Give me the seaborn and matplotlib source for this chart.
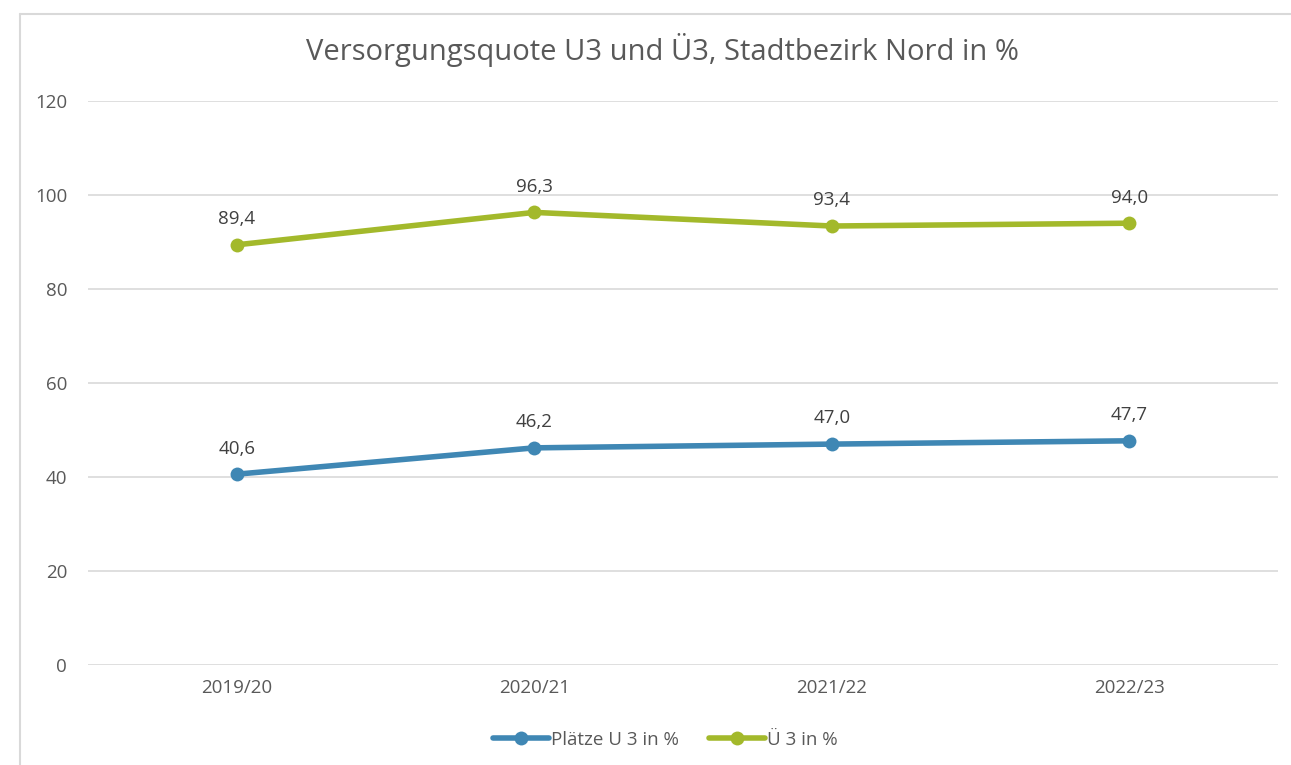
import matplotlib
matplotlib.use("Agg")
import matplotlib.pyplot as plt
from matplotlib.lines import Line2D
import seaborn as sns
import pandas as pd

years = ["2019/20", "2020/21", "2021/22", "2022/23"]
u3_values = [40.6, 46.2, 47.0, 47.7]
ue3_values = [89.4, 96.3, 93.4, 94.0]
series_names = ["Plätze U 3 in %", "Ü 3 in %"]
title = "Versorgungsquote U3 und Ü3, Stadtbezirk Nord in %"

colors = {"Plätze U 3 in %": "#3F87B4", "Ü 3 in %": "#A3B92B"}

df = pd.DataFrame({
    "Jahr": years * 2,
    "Wert": u3_values + ue3_values,
    "Reihe": [series_names[0]] * len(years) + [series_names[1]] * len(years),
})
df["x"] = df["Jahr"].map({y: i for i, y in enumerate(years)})

sns.set_theme(style="white")
plt.rcParams["font.family"] = ["Open Sans", "DejaVu Sans"]

fig = plt.figure(figsize=(12.91, 7.65), dpi=100)
ax = fig.add_axes([88 / 1291, 1 - 665 / 765, (1278 - 88) / 1291, (665 - 101) / 765])

sns.lineplot(data=df, x="x", y="Wert", hue="Reihe", palette=colors, ax=ax,
             linewidth=4, marker="o", markersize=10, markeredgewidth=0,
             legend=False, zorder=3)

for _, row in df.iterrows():
    ax.annotate(f"{row['Wert']:.1f}".replace(".", ","), (row["x"], row["Wert"]),
                xytext=(0, 12), textcoords="offset points", ha="center", va="bottom",
                fontsize=13.5, color="#404040")

ax.set_xlim(-0.5, len(years) - 0.5)
ax.set_ylim(0, 120)
ax.set_yticks(range(0, 121, 20))
ax.set_xticks(range(len(years)))
ax.set_xticklabels(years)
ax.set_xlabel("")
ax.set_ylabel("")
ax.yaxis.grid(True, color="#D9D9D9", linewidth=1.2)
ax.xaxis.grid(False)
for s in ax.spines.values():
    s.set_visible(False)
ax.tick_params(axis="both", length=0, labelsize=13.5, labelcolor="#595959")
ax.tick_params(axis="y", pad=15)
ax.tick_params(axis="x", pad=10)

fig.text(662 / 1291, 1 - 50 / 765, title, ha="center", va="center",
         fontsize=21, color="#595959")

# outer chart frame
fig.add_artist(Line2D([20 / 1291, 1.0], [1 - 14 / 765] * 2, color="#D9D9D9", linewidth=1.5))
fig.add_artist(Line2D([20 / 1291] * 2, [0, 1 - 14 / 765], color="#D9D9D9", linewidth=1.5))

handles = [Line2D([], [], color=colors[n], linewidth=4, marker="o", markersize=10,
                  markeredgewidth=0) for n in series_names]
fig.legend(handles, series_names, loc="center", bbox_to_anchor=(665 / 1291, 1 - 740 / 765),
           ncol=2, frameon=False, fontsize=13.5, labelcolor="#595959",
           handlelength=3.0, handletextpad=0.1, columnspacing=1.6)

fig.savefig("out.png", dpi=100)
